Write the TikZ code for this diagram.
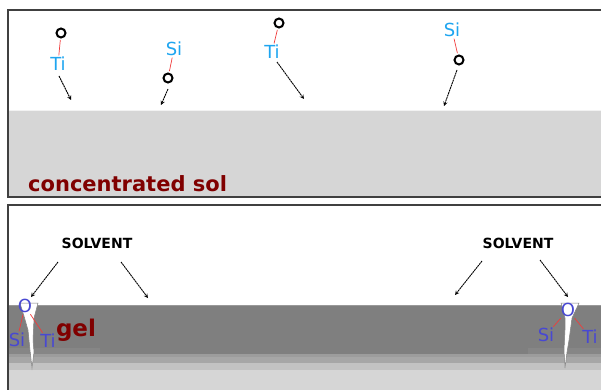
\documentclass[tikz,border=0pt]{standalone}
\usepackage{fontspec}
\setmainfont{DejaVu Sans}
\usepackage{tikz}
\usetikzlibrary{arrows}
\usetikzlibrary{positioning}

\definecolor{framegray}{RGB}{64,64,64}
\definecolor{solgray}{RGB}{214,214,214}
\definecolor{gelgray}{RGB}{127,127,127}
\definecolor{geledge}{RGB}{134,134,134}
\definecolor{band1}{RGB}{156,156,156}
\definecolor{band2}{RGB}{166,166,166}
\definecolor{band3}{RGB}{194,194,194}
\definecolor{ticyan}{RGB}{30,165,240}
\definecolor{oxblue}{RGB}{72,72,210}
\definecolor{bondred}{RGB}{240,60,60}
\definecolor{darkred}{RGB}{128,0,0}

\begin{document}
\begin{tikzpicture}[x=1pt,y=-1pt,
  frame/.style={draw=framegray,line width=1.5pt},
  atom/.style={circle,draw=black,line width=2pt,minimum size=9pt,inner sep=0pt},
  metal/.style={text=ticyan,inner sep=0pt,font=\fontsize{18}{18}\selectfont},
  gelatom/.style={text=oxblue,inner sep=0pt,font=\fontsize{18}{18}\selectfont},
  bond/.style={draw=bondred,line width=0.7pt,shorten <=1.5pt,shorten >=1.5pt},
  fall/.style={draw=black,line width=0.9pt,dash pattern=on 2pt off 0.6pt,-stealth},
  crack/.style={fill=white,draw=gray,line width=0.5pt},
  caption/.style={text=darkred,inner sep=0pt,font=\bfseries\fontsize{21}{21}\selectfont},
  solvent/.style={inner sep=0pt,font=\bfseries\fontsize{14}{14}\selectfont}]
  \useasboundingbox (0,0) rectangle (601,390);

  % concentrated sol
  \fill[solgray] (8,110) rectangle (601,197);
  \draw[white!90!gray,line width=0.6pt] (8,110) -- (601,110);
  \draw[frame] (601,10) -- (8,10) -- (8,197) -- (601,197);
  \node[caption,anchor=base west] (sol) at (28,191) {concentrated sol};

  % falling molecules
  \node[atom] (o1) at (61,33) {};
  \node[metal] (m1) at (58,64) {Ti};
  \draw[bond] (o1) -- (m1);
  \coordinate (s1) at (59,76);
  \coordinate (e1) at (71,100);
  \draw[fall] (s1) -- (e1);

  \node[metal] (m2) at (174,49) {Si};
  \node[atom] (o2) at (168,78) {};
  \draw[bond] (m2) -- (o2);
  \coordinate (s2) at (168,89);
  \coordinate (e2) at (161,105);
  \draw[fall] (s2) -- (e2);

  \node[atom] (o3) at (279,23) {};
  \node[metal] (m3) at (272,52) {Ti};
  \draw[bond] (o3) -- (m3);
  \coordinate (s3) at (277,62);
  \coordinate (e3) at (304,99);
  \draw[fall] (s3) -- (e3);

  \node[metal] (m4) at (452,30) {Si};
  \node[atom] (o4) at (459,60) {};
  \draw[bond] (m4) -- (o4);
  \coordinate (s4) at (457,70);
  \coordinate (e4) at (444,106);
  \draw[fall] (s4) -- (e4);

  % gel layer
  \fill[solgray] (8,205) rectangle (601,390);
  \fill[band3] (8,363) rectangle (601,370);
  \fill[band2] (8,357) rectangle (601,363);
  \fill[band1] (8,354) rectangle (601,357);
  \fill[gelgray] (8,305) rectangle (601,354);
  \fill[geledge] (8,348) rectangle (100,354);
  \fill[geledge] (528,348) rectangle (601,354);
  \draw[gray!80,line width=0.8pt] (8,305) -- (601,305);
  \fill[white] (8.8,206) rectangle (601,304.6);
  \draw[frame] (601,205) -- (8,205) -- (8,390);

  % cracks
  \draw[crack] (20,303) -- (38,303) -- (34,318) -- (33,340) -- (34,352) -- (32,368)
    -- (30,350) -- (28,330) -- (24,316) -- cycle;
  \draw[crack] (561,303) -- (579,303) -- (572,318) -- (569,340) -- (567,352) -- (565,368)
    -- (564,350) -- (565,330) -- (565,318) -- cycle;

  \node[gelatom] (ol) at (25,306) {O};
  \node[gelatom] (sil) at (17,340) {Si};
  \node[gelatom] (til) at (48,341) {Ti};
  \draw[bond] (ol) -- (sil);
  \draw[bond] (ol) -- (til);
  \node[caption,font=\bfseries\fontsize{23}{23}\selectfont] (gel) at (76,330) {gel};

  \node[gelatom] (or) at (568,310) {O};
  \node[gelatom] (sir) at (546,335) {Si};
  \node[gelatom] (tir) at (590,337) {Ti};
  \draw[bond] (or) -- (sir);
  \draw[bond] (or) -- (tir);

  % solvent
  \node[solvent] (sv1) at (97,243) {SOLVENT};
  \coordinate (p1) at (58,262);
  \coordinate (q1) at (31,297);
  \coordinate (p2) at (121,262);
  \coordinate (q2) at (148,298);
  \draw[fall] (p1) -- (q1);
  \draw[fall] (p2) -- (q2);

  \node[solvent] (sv2) at (518,243) {SOLVENT};
  \coordinate (p3) at (482,261);
  \coordinate (q3) at (455,295);
  \coordinate (p4) at (540,260);
  \coordinate (q4) at (568,297);
  \draw[fall] (p3) -- (q3);
  \draw[fall] (p4) -- (q4);
\end{tikzpicture}
\end{document}
